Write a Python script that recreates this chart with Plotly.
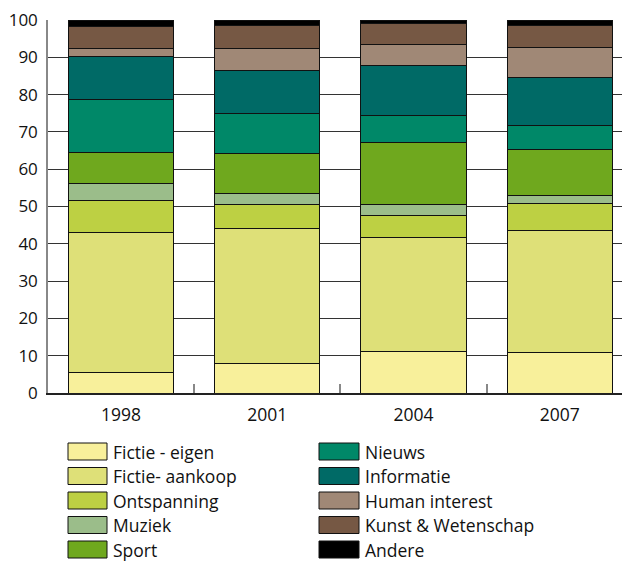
import plotly.graph_objects as go

years = ["1998", "2001", "2004", "2007"]
categories = ["Fictie - eigen", "Fictie- aankoop", "Ontspanning", "Muziek", "Sport",
              "Nieuws", "Informatie", "Human interest", "Kunst & Wetenschap", "Andere"]
fictie_eigen = [5.5, 8.0, 11.0, 10.9]
fictie_aankoop = [37.6, 36.0, 30.7, 32.7]
ontspanning = [8.5, 6.5, 6.0, 7.3]
muziek = [4.5, 2.9, 2.8, 2.1]
sport = [8.3, 10.9, 16.6, 12.2]
nieuws = [14.4, 10.7, 7.2, 6.4]
informatie = [11.4, 11.5, 13.4, 12.9]
human_interest = [2.2, 5.8, 5.6, 8.0]
kunst_wetenschap = [5.8, 6.2, 5.8, 6.0]
andere = [1.8, 1.5, 0.9, 1.5]
y_ticks = list(range(0, 101, 10))

series = [fictie_eigen, fictie_aankoop, ontspanning, muziek, sport,
          nieuws, informatie, human_interest, kunst_wetenschap, andere]
colors = ["#F8F09B", "#DEE078", "#BDD043", "#9BBD8A", "#6FA81E",
          "#008868", "#006A66", "#A08876", "#765844", "#000000"]

# page has an 8px body margin; figure sized to fill the 630x563 window
OFF = 8
W, H = 630 - OFF, 563 - OFF
L, R, T, B = 48 - OFF, 0, 20 - OFF, 170
pw, ph = W - L - R, H - T - B

def px(xp):  # page pixel -> paper
    return (xp - OFF - L) / pw

def py(yp):
    return (H - B - (yp - OFF)) / ph

FONT = "Open Sans"

fig = go.Figure()
for name, vals, col in zip(categories, series, colors):
    fig.add_trace(go.Bar(x=years, y=vals, name=name, marker_color=col,
                         marker_line=dict(color="#111111", width=1), showlegend=False))

fig.update_layout(
    barmode="stack", bargap=0.28,
    width=W, height=H, margin=dict(l=L, r=R, t=T, b=B),
    plot_bgcolor="white", paper_bgcolor="white",
    font=dict(family=FONT, size=17, color="#111111"),
    xaxis=dict(type="category", range=[-0.5, 3.48], showgrid=False,
               showline=True, linecolor="#222222", linewidth=1.5,
               ticks="inside", tickson="boundaries", ticklen=9, tickcolor="#888888",
               tickwidth=1.5, tickfont=dict(size=17.5), ticklabelstandoff=5),
    yaxis=dict(range=[0, 100], tickvals=y_ticks, showgrid=True, gridcolor="#333333",
               gridwidth=1, showline=True, linecolor="#888888", linewidth=1.5,
               zeroline=False, ticks="", tickfont=dict(size=17), ticklabelstandoff=5,
               ticklabeloverflow="allow"),
)

# custom legend (page pixel positions)
row_y = [451.5, 476, 500.5, 525, 549.5]
cols = [(68, 107, 113), (319, 359, 365)]
for i, (name, col) in enumerate(zip(categories, colors)):
    c = cols[i // 5]
    yc = row_y[i % 5]
    fig.add_shape(type="rect", xref="paper", yref="paper",
                  x0=px(c[0]), x1=px(c[1]), y0=py(yc + 8.5), y1=py(yc - 8.5),
                  fillcolor=col, line=dict(color="#111111", width=1))
    fig.add_annotation(xref="paper", yref="paper", x=px(c[2]), y=py(yc),
                       text=name, showarrow=False, xanchor="left", yanchor="middle",
                       xshift=-2, font=dict(size=17.5, color="#111111"))

fig.write_html("out.html")
